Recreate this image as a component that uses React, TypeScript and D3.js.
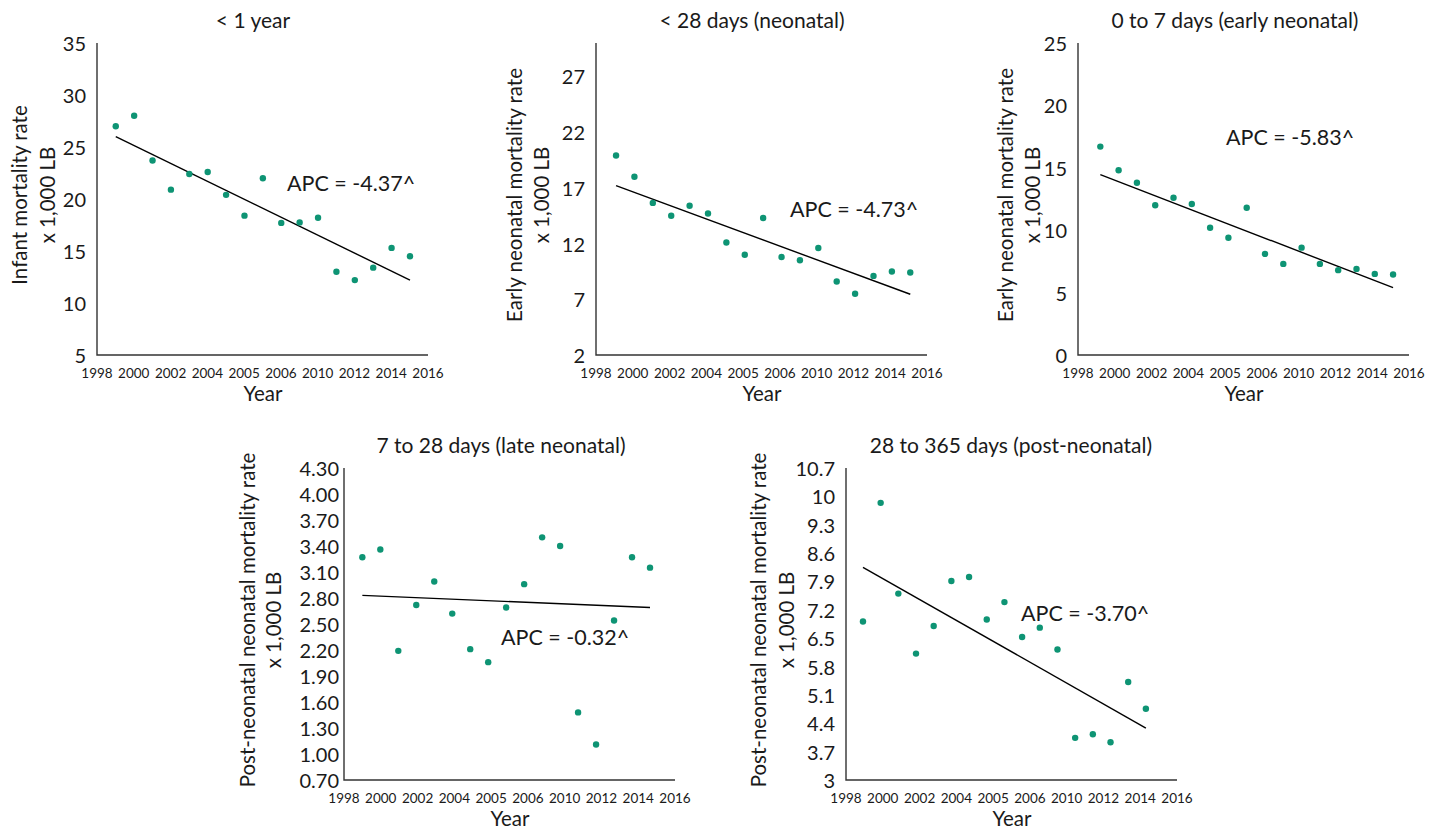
import React from "react";
import * as d3 from "d3";

// years plotted (one point per year)
const years = [1999, 2000, 2001, 2002, 2003, 2004, 2005, 2006, 2007, 2008, 2009, 2010, 2011, 2012, 2013, 2014, 2015];
// x tick labels as printed in the figure
const xTickLabels = ["1998", "2000", "2002", "2004", "2005", "2006", "2010", "2012", "2014", "2016"];

// rates x 1,000 LB
const infantRate = [27.0, 28.0, 23.7, 20.9, 22.4, 22.6, 20.4, 18.4, 22.0, 17.7, 17.75, 18.2, 13.0, 12.2, 13.4, 15.3, 14.5];
const neonatalRate = [19.9, 18.0, 15.65, 14.5, 15.4, 14.7, 12.1, 11.0, 14.3, 10.8, 10.5, 11.6, 8.6, 7.5, 9.1, 9.5, 9.4];
const earlyNeonatalRate = [16.7, 14.8, 13.8, 12.0, 12.6, 12.1, 10.2, 9.4, 11.8, 8.1, 7.3, 8.6, 7.3, 6.8, 6.9, 6.5, 6.45];
const lateNeonatalRate = [3.27, 3.36, 2.19, 2.72, 2.99, 2.62, 2.21, 2.06, 2.69, 2.96, 3.5, 3.4, 1.48, 1.11, 2.54, 3.27, 3.15];
const postNeonatalRate = [6.91, 9.84, 7.6, 6.12, 6.8, 7.91, 8.01, 6.96, 7.39, 6.53, 6.76, 6.22, 4.04, 4.13, 3.93, 5.42, 4.76];

// fitted trend, first and last year
const infantTrend = [26.0, 12.2];
const neonatalTrend = [17.2, 7.45];
const earlyNeonatalTrend = [14.45, 5.4];
const lateNeonatalTrend = [2.83, 2.69];
const postNeonatalTrend = [8.25, 4.28];

const apcLabels = ["APC = -4.37^", "APC = -4.73^", "APC = -5.83^", "APC = -0.32^", "APC = -3.70^"];
const titles = ["< 1 year", "< 28 days (neonatal)", "0 to 7 days (early neonatal)", "7 to 28 days (late neonatal)", "28 to 365 days (post-neonatal)"];
const yTitles = [
  ["Infant mortality rate", "x 1,000 LB"],
  ["Early neonatal mortality rate", "x 1,000 LB"],
  ["Early neonatal mortality rate", "x 1,000 LB"],
  ["Post-neonatal neonatal mortality rate", "x 1,000 LB"],
  ["Post-neonatal neonatal mortality rate", "x 1,000 LB"],
];

const yTicks1 = [5, 10, 15, 20, 25, 30, 35];
const yTicks2 = [2, 7, 12, 17, 22, 27];
const yTicks3 = [0, 5, 10, 15, 20, 25];
const yTicks4 = ["0.70", "1.00", "1.30", "1.60", "1.90", "2.20", "2.50", "2.80", "3.10", "3.40", "3.70", "4.00", "4.30"];
const yTicks5 = ["3", "3.7", "4.4", "5.1", "5.8", "6.5", "7.2", "7.9", "8.6", "9.3", "10", "10.7"];

const FONT = "Lato, 'Open Sans', sans-serif";
const DOT = "#0e9474";
const INK = "#1a1a1a";

type PanelProps = {
  x0: number; top: number; bottom: number; width: number;
  xDomain: [number, number];
  yDomain: [number, number];
  yTicks: (number | string)[];
  values: number[];
  trend: number[];
  title: string; yTitle: string[]; apc: string;
  tickGap: number; yTitleX: [number, number]; titleDx: number;
  apcPos: [number, number];
};

function Panel(p: PanelProps) {
  const h = p.bottom - p.top;
  const x = d3.scaleLinear().domain(p.xDomain).range([0, p.width]);
  const y = d3.scaleLinear().domain(p.yDomain).range([h, 0]);
  const xt = d3.scalePoint<string>().domain(xTickLabels).range([0, p.width]);
  const line = d3.line<[number, number]>().x((d) => x(d[0])).y((d) => y(d[1]));
  const trendPts: [number, number][] = [
    [years[0], p.trend[0]],
    [years[years.length - 1], p.trend[1]],
  ];
  return (
    <g transform={`translate(${p.x0},${p.top})`} fontFamily={FONT} fill={INK}>
      <text x={p.titleDx} y={-24} textAnchor="middle" dominantBaseline="central" fontSize={21}>{p.title}</text>
      {p.yTicks.map((t) => (
        <text key={String(t)} x={-p.tickGap} y={y(+t)} textAnchor="end" dominantBaseline="central" fontSize={20}>{t}</text>
      ))}
      {xTickLabels.map((t) => (
        <text key={t} x={xt(t)} y={h + 18} textAnchor="middle" dominantBaseline="central" fontSize={13.5}>{t}</text>
      ))}
      <text x={166} y={h + 38} textAnchor="middle" dominantBaseline="central" fontSize={20.5}>Year</text>
      {p.yTitle.map((s, i) => (
        <text key={s} transform={`translate(${p.yTitleX[i]},${h / 2 - 4}) rotate(-90)`} textAnchor="middle" dominantBaseline="central" fontSize={20.5}>{s}</text>
      ))}
      <path d={`M0,0V${h}H${p.width}`} fill="none" stroke="#333" strokeWidth={1.4} />
      <path d={line(trendPts) ?? ""} fill="none" stroke="#000" strokeWidth={1.4} />
      {p.values.map((v, i) => (
        <circle key={i} cx={x(years[i])} cy={y(v)} r={3.2} fill={DOT} />
      ))}
      <text x={p.apcPos[0]} y={p.apcPos[1]} dominantBaseline="central" fontSize={21.5}>{p.apc}</text>
    </g>
  );
}

export default function App() {
  const W = 331;
  const top1 = 43, bot1 = 355, top2 = 468, bot2 = 780;
  return (
    <svg width={1443} height={829} style={{ position: "absolute", left: 0, top: 0, background: "#fff" }}>
      <Panel x0={97} top={top1} bottom={bot1} width={W} xDomain={[1997.98, 2015.98]} yDomain={[5, 35]}
        yTicks={yTicks1} values={infantRate} trend={infantTrend} title={titles[0]} yTitle={yTitles[0]} apc={apcLabels[0]}
        tickGap={11} yTitleX={[-78, -50]} titleDx={156} apcPos={[190, 140]} />
      <Panel x0={596} top={top1} bottom={bot1} width={W} xDomain={[1997.91, 2015.91]} yDomain={[2, 30]}
        yTicks={yTicks2} values={neonatalRate} trend={neonatalTrend} title={titles[1]} yTitle={yTitles[1]} apc={apcLabels[1]}
        tickGap={11} yTitleX={[-82, -55]} titleDx={156} apcPos={[194, 166]} />
      <Panel x0={1078} top={top1} bottom={bot1} width={W} xDomain={[1997.78, 2015.87]} yDomain={[0, 25]}
        yTicks={yTicks3} values={earlyNeonatalRate} trend={earlyNeonatalTrend} title={titles[2]} yTitle={yTitles[2]} apc={apcLabels[2]}
        tickGap={11} yTitleX={[-73, -46]} titleDx={157} apcPos={[148, 94]} />
      <Panel x0={344} top={top2} bottom={bot2} width={W} xDomain={[1997.98, 2016.39]} yDomain={[0.7, 4.3]}
        yTicks={yTicks4} values={lateNeonatalRate} trend={lateNeonatalTrend} title={titles[3]} yTitle={yTitles[3]} apc={apcLabels[3]}
        tickGap={5} yTitleX={[-97, -71]} titleDx={157} apcPos={[157, 169]} />
      <Panel x0={846} top={top2} bottom={bot2} width={W} xDomain={[1998.04, 2016.76]} yDomain={[3, 10.7]}
        yTicks={yTicks5} values={postNeonatalRate} trend={postNeonatalTrend} title={titles[4]} yTitle={yTitles[4]} apc={apcLabels[4]}
        tickGap={11} yTitleX={[-88, -60]} titleDx={165} apcPos={[175, 145]} />
    </svg>
  );
}
